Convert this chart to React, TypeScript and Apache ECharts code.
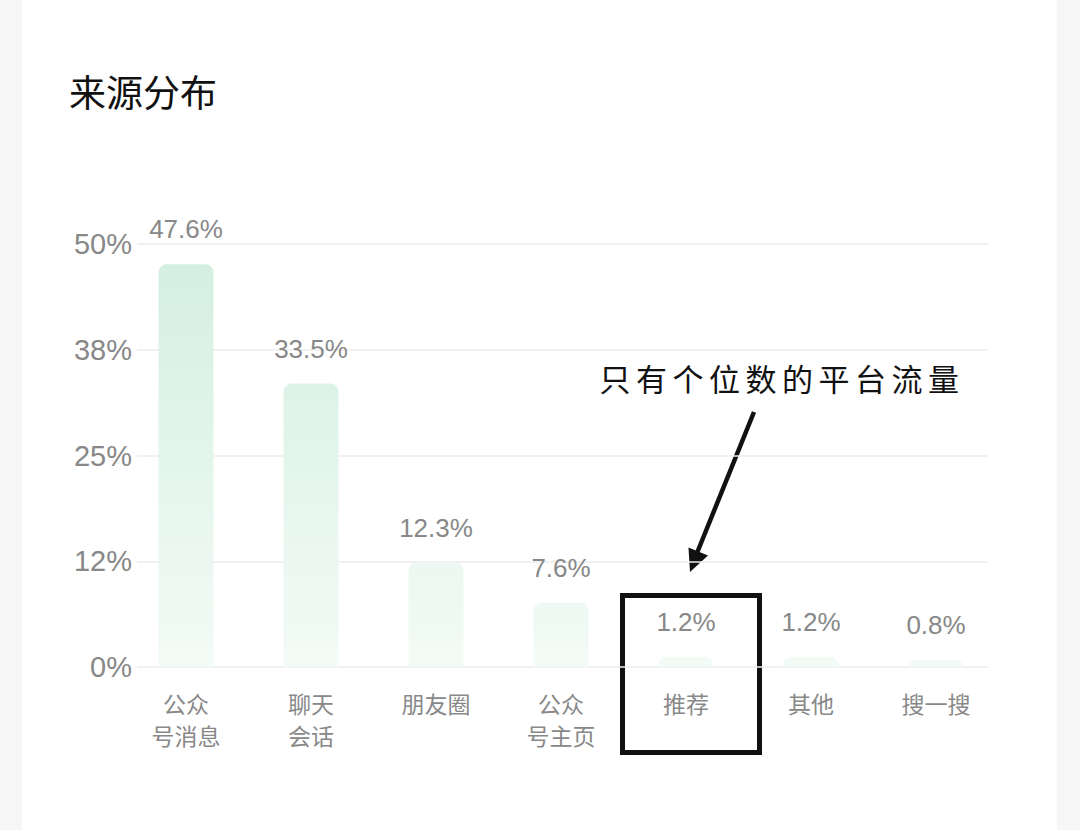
import React, { useEffect, useRef } from 'react';
import * as echarts from 'echarts';

const categories = ['公众\n号消息', '聊天\n会话', '朋友圈', '公众\n号主页', '推荐', '其他', '搜一搜'];
const shares = [47.6, 33.5, 12.3, 7.6, 1.2, 1.2, 0.8];
const yTickLabels = ['0%', '12%', '25%', '38%', '50%'];
const note = '只有个位数的平台流量';

const FONT = "'Liberation Sans', 'Noto Sans CJK SC', sans-serif";

const App: React.FC = () => {
  const chartRef = useRef<HTMLDivElement>(null);

  useEffect(() => {
    if (!chartRef.current) return;
    const chart = echarts.init(chartRef.current, undefined, { renderer: 'svg' });

    const barFill = new echarts.graphic.LinearGradient(0, 244, 0, 667, [
      { offset: 0, color: '#d3efe1' },
      { offset: 1, color: '#f3fbf6' }
    ], true);

    // handwritten note, one glyph at a time to keep the wide spacing
    const noteChars = note.split('').map((ch, i) => ({
      type: 'text',
      x: 615 + i * 36.5,
      y: 377,
      style: {
        text: ch,
        fontSize: 31,
        fontFamily: "'Noto Sans CJK SC', sans-serif",
        fill: '#111',
        align: 'center',
        verticalAlign: 'middle'
      }
    }));

    const option: any = {
      animation: false,
      title: {
        text: '来源分布',
        left: 64,
        top: 67,
        textStyle: { fontSize: 37, fontWeight: 'normal', color: '#111', fontFamily: "'Noto Sans CJK SC', sans-serif" }
      },
      grid: [
        { left: 137, right: 92, top: 244, bottom: 163 },
        { left: 123.5, right: 81.5, top: 244, bottom: 163 }
      ],
      xAxis: [
        { type: 'value', gridIndex: 0, show: false, min: 0, max: 1 },
        {
          type: 'category',
          gridIndex: 1,
          data: categories,
          axisLine: { show: false },
          axisTick: { show: false },
          axisLabel: {
            fontSize: 23,
            lineHeight: 32,
            color: '#888',
            fontFamily: "'Noto Sans CJK SC', sans-serif",
            margin: 20,
            verticalAlign: 'top'
          }
        }
      ],
      yAxis: [
        {
          type: 'value',
          gridIndex: 0,
          min: 0,
          max: 50,
          interval: 12.5,
          axisLine: { show: false },
          axisTick: { show: false },
          axisLabel: {
            fontSize: 29,
            color: '#888',
            fontFamily: FONT,
            margin: 5,
            formatter: (v: number) => yTickLabels[Math.round(v / 12.5)]
          },
          splitLine: { lineStyle: { color: '#ececec', width: 1.5 } }
        },
        { type: 'value', gridIndex: 1, min: 0, max: 50, show: false }
      ],
      series: [
        {
          type: 'bar',
          xAxisIndex: 1,
          yAxisIndex: 1,
          data: shares,
          barWidth: 55,
          itemStyle: { color: barFill, borderRadius: [8, 8, 0, 0] },
          label: {
            show: true,
            position: 'top',
            distance: 22,
            fontSize: 26,
            color: '#888',
            fontFamily: FONT,
            formatter: (p: any) => p.value.toFixed(1) + '%'
          }
        }
      ],
      graphic: [
        ...noteChars,
        {
          type: 'line',
          shape: { x1: 754, y1: 412, x2: 697, y2: 553 },
          style: { stroke: '#111', lineWidth: 4.5 }
        },
        {
          type: 'polygon',
          shape: { points: [[690, 572], [688.5, 547.5], [708, 555.5]] },
          style: { fill: '#111' }
        },
        {
          type: 'rect',
          shape: { x: 622.5, y: 595.5, width: 137, height: 157 },
          style: { fill: 'none', stroke: '#111', lineWidth: 5 }
        }
      ]
    };

    chart.setOption(option);
    return () => chart.dispose();
  }, []);

  return (
    <div style={{ position: 'fixed', left: 0, top: 0, width: 1080, height: 830, background: '#f6f6f6' }}>
      <div style={{ position: 'absolute', left: 22, top: 0, width: 1035, height: 830, background: '#fff' }} />
      <div ref={chartRef} style={{ position: 'absolute', left: 0, top: 0, width: 1080, height: 830 }} />
    </div>
  );
};

export default App;
